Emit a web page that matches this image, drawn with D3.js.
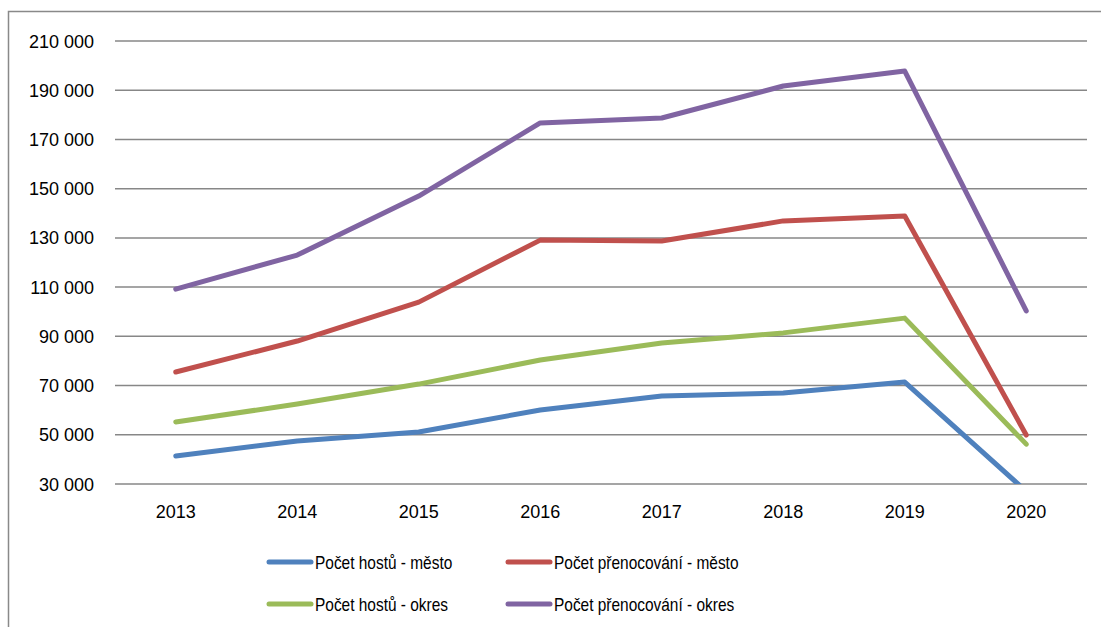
<!DOCTYPE html>
<html>
<head>
<meta charset="utf-8">
<script src="https://cdn.jsdelivr.net/npm/d3@7"></script>
<style>
  body { margin: 0; background: white; }
  text { font-family: "Liberation Sans", Arial, sans-serif; fill: #000; }
</style>
</head>
<body>
<div id="container"></div>
<script>
// data
let years = ["2013", "2014", "2015", "2016", "2017", "2018", "2019", "2020"];
let hostyMesto = [41400, 47500, 51100, 60100, 65800, 67000, 71400, 27000];
let prenocMesto = [75500, 88100, 103900, 129100, 128700, 136900, 138900, 49900];
let hostyOkres = [55200, 62500, 70600, 80400, 87300, 91400, 97400, 46200];
let prenocOkres = [109200, 123000, 147000, 176700, 178700, 191700, 197800, 100300];
let yTicks = [30000, 50000, 70000, 90000, 110000, 130000, 150000, 170000, 190000, 210000];

let blue = "#4F81BD";
let red = "#C0504D";
let green = "#9BBB59";
let purple = "#8064A2";

let series = [
  { name: "Počet hostů - město", values: hostyMesto, color: blue },
  { name: "Počet přenocování - město", values: prenocMesto, color: red },
  { name: "Počet hostů - okres", values: hostyOkres, color: green },
  { name: "Počet přenocování - okres", values: prenocOkres, color: purple }
];

let viz = d3.select("#container")
  .append("svg")
    .attr("width", 1101)
    .attr("height", 627)
;

// outer frame
viz.append("rect")
  .attr("x", 8.5)
  .attr("y", 11.5)
  .attr("width", 1200)
  .attr("height", 700)
  .attr("fill", "white")
  .attr("stroke", "#898989")
  .attr("stroke-width", 1.5)
;

let plotLeft = 115, plotRight = 1087, plotTop = 41, plotBottom = 484;

let x = d3.scaleBand().domain(years).range([plotLeft, plotRight]);
let y = d3.scaleLinear().domain([30000, 210000]).range([plotBottom, plotTop]);

let fmt = v => d3.format(",")(v).replace(/,/g, " ");

// gridlines
viz.append("g")
  .selectAll("line")
  .data(yTicks)
  .join("line")
    .attr("x1", plotLeft)
    .attr("x2", plotRight)
    .attr("y1", d => y(d))
    .attr("y2", d => y(d))
    .attr("stroke", "#878787")
    .attr("stroke-width", 1.5)
;

// y labels
viz.append("g")
  .selectAll("text")
  .data(yTicks)
  .join("text")
    .text(d => fmt(d))
    .attr("x", 94)
    .attr("y", d => y(d) + 6.5)
    .attr("text-anchor", "end")
    .attr("font-size", 18)
;

// x labels
viz.append("g")
  .selectAll("text")
  .data(years)
  .join("text")
    .text(d => d)
    .attr("x", d => x(d) + x.bandwidth() / 2)
    .attr("y", 518)
    .attr("text-anchor", "middle")
    .attr("font-size", 18)
;

viz.append("clipPath")
  .attr("id", "plot")
  .append("rect")
    .attr("x", plotLeft)
    .attr("y", plotTop - 10)
    .attr("width", plotRight - plotLeft)
    .attr("height", plotBottom - plotTop + 10)
;

let line = d3.line()
  .x((d, i) => x(years[i]) + x.bandwidth() / 2)
  .y(d => y(d));

viz.append("g")
  .attr("clip-path", "url(#plot)")
  .selectAll("path")
  .data(series)
  .join("path")
    .attr("d", d => line(d.values))
    .attr("fill", "none")
    .attr("stroke", d => d.color)
    .attr("stroke-width", 5)
    .attr("stroke-linejoin", "round")
    .attr("stroke-linecap", "round")
;

// legend
let legendPos = [[269, 562], [508, 562], [269, 604], [508, 604]];
let legend = viz.append("g")
  .selectAll("g")
  .data(series)
  .join("g")
    .attr("transform", (d, i) => "translate(" + legendPos[i][0] + "," + legendPos[i][1] + ")")
;

legend.append("line")
  .attr("x1", 0)
  .attr("x2", 42)
  .attr("stroke", d => d.color)
  .attr("stroke-width", 5)
  .attr("stroke-linecap", "round")
;

// calibri-like narrow text
legend.append("text")
  .text(d => d.name)
  .attr("transform", "translate(46,6.5) scale(0.835,1)")
  .attr("font-size", 18.5)
;
</script>
</body>
</html>
